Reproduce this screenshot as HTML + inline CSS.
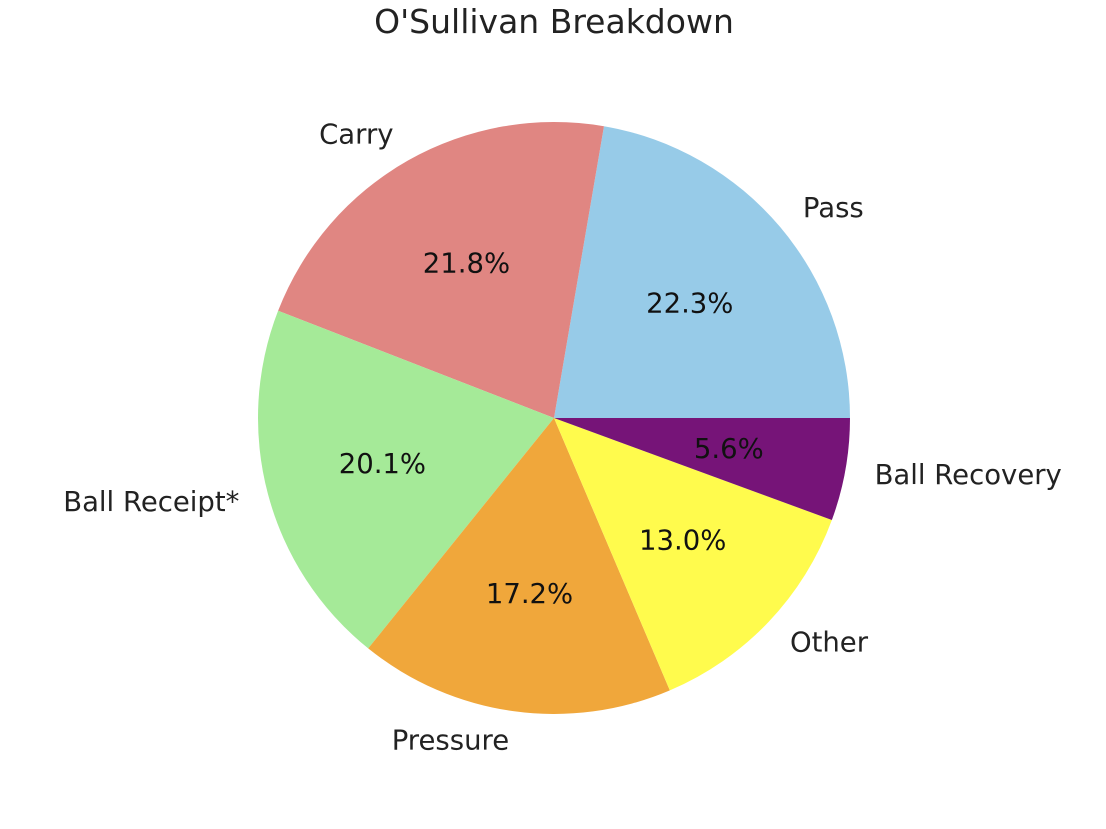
<!DOCTYPE html>
<html><head><meta charset="utf-8"><style>
html,body{margin:0;padding:0;background:#fff;}
svg text{font-family:"DejaVu Sans","Liberation Sans",sans-serif;}
</style></head><body>
<svg id="chart" width="1106" height="824" viewBox="0 0 1106 824">
<text x="554" y="33" text-anchor="middle" font-size="33" fill="#222">O'Sullivan Breakdown</text>
<g id="slices"></g><g id="labels"></g>
</svg>
<script>
const categories = ["Pass","Carry","Ball Receipt*","Pressure","Other","Ball Recovery"];
const values = [22.3,21.8,20.1,17.2,13.0,5.6];
const colors = ["#97cbe8","#e08682","#a5ea98","#f0a73b","#fffb4d","#761478"];
const cx=554, cy=418, r=296;
const ns="http://www.w3.org/2000/svg";
const total=values.reduce((a,b)=>a+b,0);
const gS=document.getElementById('slices'), gL=document.getElementById('labels');
function pt(a,rr){return [cx+rr*Math.cos(a), cy-rr*Math.sin(a)];}
let start=0;
values.forEach((v,i)=>{
  const sweep=v/total*2*Math.PI, end=start+sweep;
  const [x1,y1]=pt(start,r),[x2,y2]=pt(end,r);
  const p=document.createElementNS(ns,'path');
  p.setAttribute('d',`M${cx},${cy} L${x1},${y1} A${r},${r} 0 ${sweep>Math.PI?1:0} 0 ${x2},${y2} Z`);
  p.setAttribute('fill',colors[i]);
  
  
  gS.appendChild(p);
  const mid=(start+end)/2;
  const [lx,ly]=pt(mid,r*1.1);
  const t=document.createElementNS(ns,'text');
  t.setAttribute('x',lx); t.setAttribute('y',ly+9);
  t.setAttribute('font-size','27.5'); t.setAttribute('fill','#222');
  t.setAttribute('text-anchor',Math.cos(mid)>=0?'start':'end');
  t.textContent=categories[i];
  
  
  gL.appendChild(t);
  const [px,py]=pt(mid,r*0.6);
  const q=document.createElementNS(ns,'text');
  q.setAttribute('x',px); q.setAttribute('y',py+9);
  q.setAttribute('font-size','27.5'); q.setAttribute('fill','#111');
  q.setAttribute('text-anchor','middle');
  q.textContent=(v/total*100).toFixed(1)+'%';
  
  
  gL.appendChild(q);
  start=end;
});
</script>
</body></html>
